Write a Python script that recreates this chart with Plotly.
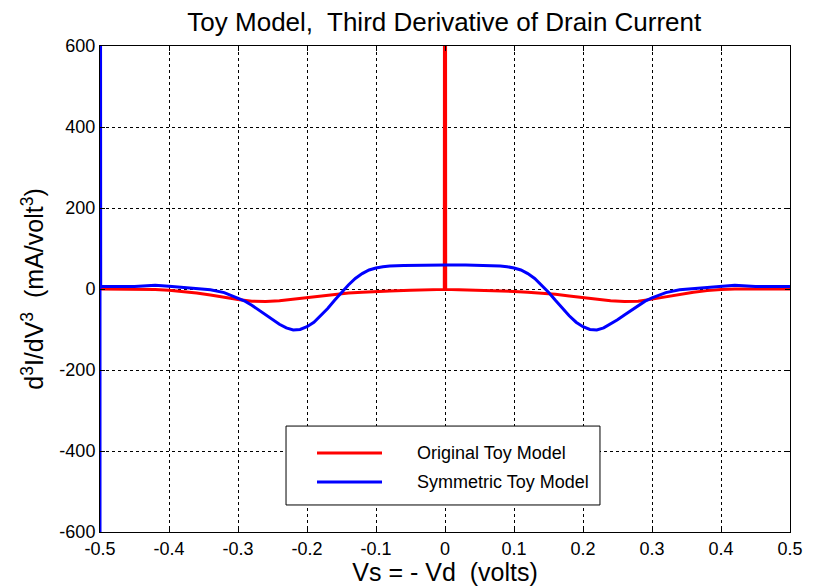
import plotly.graph_objects as go

# Third derivative of drain current, d3I/dV3 in mA/volt^3
x_orig = [-0.5, -0.45, -0.42, -0.4, -0.38, -0.36, -0.34, -0.32, -0.3, -0.28, -0.26,
          -0.24, -0.22, -0.2, -0.18, -0.16, -0.14, -0.12, -0.1, -0.08, -0.05,
          -0.02, -0.001,
          0.0,
          0.001, 0.02, 0.05, 0.08, 0.1, 0.12, 0.14, 0.16, 0.18, 0.2, 0.22,
          0.24, 0.26, 0.28, 0.3, 0.32, 0.34, 0.36, 0.38, 0.4, 0.42, 0.45, 0.5]
y_orig = [0, 0, -1, -3, -6, -10, -15, -21, -26, -30, -31,
          -29, -25, -21, -17, -13, -10, -8, -6, -5, -3,
          -2, -1,
          3000,
          -1, -2, -3, -5, -6, -8, -10, -13, -17, -21, -25,
          -29, -31, -30, -25, -19, -13, -8, -4, -1, 0, 0, 0]

x_sym = [-0.5, -0.5, -0.499, -0.45, -0.42, -0.4, -0.38, -0.36, -0.34, -0.32, -0.3,
         -0.29, -0.28, -0.27, -0.26, -0.25, -0.24, -0.23, -0.22, -0.21, -0.2,
         -0.19, -0.18, -0.17, -0.16, -0.15, -0.14, -0.13, -0.12, -0.11, -0.1,
         -0.09, -0.08, -0.06, -0.03, 0.0, 0.03, 0.06, 0.08, 0.09, 0.1,
         0.11, 0.12, 0.13, 0.14, 0.15, 0.16, 0.17, 0.18, 0.19, 0.2,
         0.21, 0.22, 0.23, 0.24, 0.25, 0.26, 0.27, 0.28, 0.29, 0.3,
         0.32, 0.34, 0.36, 0.38, 0.4, 0.42, 0.45, 0.5]
y_sym = [-3000, 3000, 6, 6, 9, 7, 4, 1, -2, -9, -22,
         -30, -40, -52, -64, -76, -87, -96, -101, -100, -93,
         -82, -66, -48, -28, -8, 10, 26, 38, 47, 52,
         55, 57, 58, 59, 59, 59, 58, 57, 55, 52,
         47, 38, 26, 10, -8, -28, -48, -66, -82, -93,
         -100, -101, -96, -87, -76, -64, -52, -40, -30, -22,
         -9, -2, 1, 4, 7, 9, 6, 6]

x_ticks = [-0.5, -0.4, -0.3, -0.2, -0.1, 0, 0.1, 0.2, 0.3, 0.4, 0.5]
x_tick_text = ["-0.5", "-0.4", "-0.3", "-0.2", "-0.1", "0", "0.1", "0.2", "0.3", "0.4", "0.5"]
y_ticks = [-600, -400, -200, 0, 200, 400, 600]
y_tick_text = ["-600", "-400", "-200", "0", "200", "400", "600"]

series = [
    ("Original Toy Model", x_orig, y_orig, "#ff0000"),
    ("Symmetric Toy Model", x_sym, y_sym, "#0000ff"),
]

FONT = "Liberation Sans, Arial, sans-serif"

fig = go.Figure()
for name, xs, ys, color in series:
    fig.add_trace(go.Scatter(x=xs, y=ys, mode="lines", name=name,
                             line=dict(color=color, width=3), showlegend=False))

# Boxed legend drawn in paper coordinates
legend_box = dict(x0=0.2696, x1=0.7246, y0=0.0556, y1=0.218)
fig.add_shape(type="rect", xref="paper", yref="paper", **legend_box,
              line=dict(color="#000000", width=1), fillcolor="white", layer="above")
for i, (name, xs, ys, color) in enumerate(series):
    yy = 0.1626 - i * 0.0596
    fig.add_shape(type="line", xref="paper", yref="paper",
                  x0=0.3145, x1=0.4087, y0=yy, y1=yy,
                  line=dict(color=color, width=3), layer="above")
    fig.add_annotation(xref="paper", yref="paper", x=0.4565, y=yy, text=name,
                       showarrow=False, xanchor="left", yanchor="middle",
                       font=dict(family=FONT, size=18, color="#000000"))

axis_common = dict(showline=True, linecolor="#000000", linewidth=1, mirror="ticks",
                   ticks="inside", ticklen=5, tickcolor="#000000",
                   showgrid=True, gridcolor="#000000", gridwidth=1, griddash="dot",
                   zeroline=False, automargin=False,
                   tickfont=dict(family=FONT, size=18, color="#000000"))

fig.update_xaxes(range=[-0.5, 0.5], tickvals=x_ticks, ticktext=x_tick_text,
                 title=dict(text="Vs = - Vd  (volts)", standoff=2,
                            font=dict(family=FONT, size=25, color="#000000")),
                 **axis_common)
fig.update_yaxes(range=[-600, 600], tickvals=y_ticks, ticktext=y_tick_text,
                 title=dict(text="d<sup>3</sup>I/dV<sup>3</sup>  (mA/volt<sup>3</sup>)",
                            standoff=8,
                            font=dict(family=FONT, size=25, color="#000000")),
                 **axis_common)

fig.update_layout(
    width=813, height=586,
    margin=dict(l=100, r=23, t=46, b=54),
    paper_bgcolor="white", plot_bgcolor="white",
    title=dict(text="Toy Model,  Third Derivative of Drain Current",
               x=0.5465, xanchor="center", y=0.962, yanchor="middle",
               font=dict(family=FONT, size=26, color="#000000")),
)

fig.write_html("out.html")
